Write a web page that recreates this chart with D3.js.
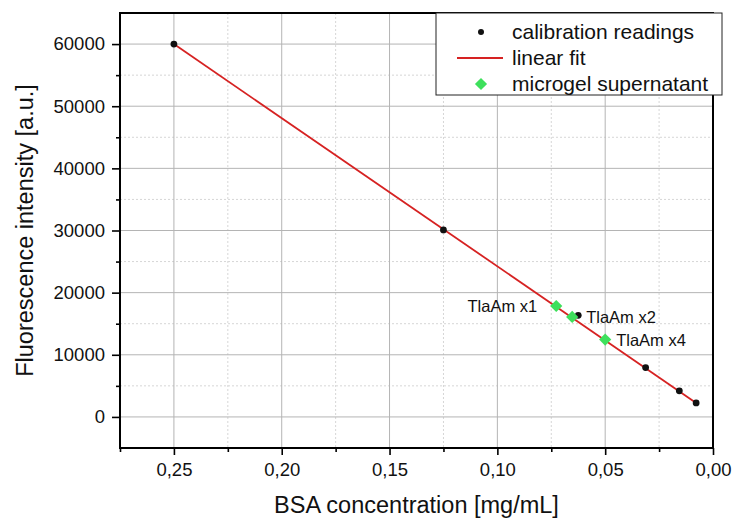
<!DOCTYPE html>
<html>
<head>
<meta charset="utf-8">
<script src="https://cdn.jsdelivr.net/npm/d3@7"></script>
<style>
  body { margin: 0; background: #fff; }
  svg { font-family: Arial, "Liberation Sans", sans-serif; }
</style>
</head>
<body>
<div class="chart"></div>
<script>
// data
var calibX = [0.25, 0.125, 0.0625, 0.03125, 0.015625, 0.0078125];
var calibY = [60000, 30100, 16350, 7950, 4200, 2250];
var fitX = [0.25, 0.0078125];
var fitY = [60000, 2250];
var sampleX = [0.0727, 0.0653, 0.0500];
var sampleY = [17850, 16100, 12450];
var sampleLabels = ["TlaAm x1", "TlaAm x2", "TlaAm x4"];
var xTicks = [0.25, 0.20, 0.15, 0.10, 0.05, 0.00];
var xMinor = [0.275, 0.225, 0.175, 0.125, 0.075, 0.025];
var yTicks = [0, 10000, 20000, 30000, 40000, 50000, 60000];
var yMinor = [-5000, 5000, 15000, 25000, 35000, 45000, 55000, 65000];
var legendLabels = ["calibration readings", "linear fit", "microgel supernatant"];

// set the dimensions and margins of the graph
var margin = {top: 13, right: 20, bottom: 70, left: 120},
    width = 733 - margin.left - margin.right,
    height = 518 - margin.top - margin.bottom;

var x = d3.scaleLinear().domain([0.275, 0]).range([0, width]);
var y = d3.scaleLinear().domain([-5000, 65000]).range([height, 0]);

var locale = d3.formatLocale({decimal: ",", thousands: "", grouping: [3], currency: ["", ""]});
var fmtX = locale.format(".2f");

var svg = d3.select(".chart").append("svg")
    .attr("width", width + margin.left + margin.right)
    .attr("height", height + margin.top + margin.bottom)
    .append("g")
    .attr("transform", "translate(" + margin.left + "," + margin.top + ")");

// minor grid (dashed)
svg.selectAll(".gxm").data(xMinor).enter().append("line")
    .attr("x1", d => x(d)).attr("x2", d => x(d))
    .attr("y1", 0).attr("y2", height)
    .attr("stroke", "#d6d6d6").attr("stroke-dasharray", "2,2");
svg.selectAll(".gym").data(yMinor).enter().append("line")
    .attr("y1", d => y(d)).attr("y2", d => y(d))
    .attr("x1", 0).attr("x2", width)
    .attr("stroke", "#d6d6d6").attr("stroke-dasharray", "2,2");

// major grid
svg.selectAll(".gx").data(xTicks).enter().append("line")
    .attr("x1", d => x(d)).attr("x2", d => x(d))
    .attr("y1", 0).attr("y2", height)
    .attr("stroke", "#b4b4b4");
svg.selectAll(".gy").data(yTicks).enter().append("line")
    .attr("y1", d => y(d)).attr("y2", d => y(d))
    .attr("x1", 0).attr("x2", width)
    .attr("stroke", "#b4b4b4");

// linear fit
var line = d3.line()
    .x(function(d) { return x(d[0]); })
    .y(function(d) { return y(d[1]); });
svg.append("path")
    .datum(d3.zip(fitX, fitY))
    .attr("d", line)
    .attr("fill", "none")
    .attr("stroke", "#d62222")
    .attr("stroke-width", 1.8);

// calibration readings
svg.selectAll(".dot").data(d3.zip(calibX, calibY)).enter().append("circle")
    .attr("cx", d => x(d[0]))
    .attr("cy", d => y(d[1]))
    .attr("r", 3.4)
    .attr("fill", "#111");

// microgel supernatant
var diamond = d3.symbol().type(d3.symbolDiamond2).size(95);
svg.selectAll(".dia").data(d3.zip(sampleX, sampleY)).enter().append("path")
    .attr("d", diamond)
    .attr("transform", d => "translate(" + x(d[0]) + "," + y(d[1]) + ")")
    .attr("fill", "#3ee05c");

// sample labels
var labelDx = [-19, 14, 11];
var labelDy = [6, 6, 6];
var labelAnchor = ["end", "start", "start"];
sampleLabels.forEach(function(t, i) {
    svg.append("text")
        .text(t)
        .attr("x", x(sampleX[i]) + labelDx[i])
        .attr("y", y(sampleY[i]) + labelDy[i])
        .attr("text-anchor", labelAnchor[i])
        .attr("font-size", "16.5px")
        .attr("fill", "#111");
});

// axes
var xAxis = d3.axisBottom(x).tickValues(xTicks).tickFormat(fmtX).tickSize(7).tickPadding(8);
var gx = svg.append("g")
    .attr("transform", "translate(0," + height + ")")
    .call(xAxis);
svg.append("g")
    .attr("transform", "translate(0," + height + ")")
    .call(d3.axisBottom(x).tickValues(xMinor).tickFormat("").tickSize(4))
    .select(".domain").remove();

var yAxis = d3.axisLeft(y).tickValues(yTicks).tickFormat(d3.format("d")).tickSize(8).tickPadding(7);
var gy = svg.append("g").call(yAxis);
svg.append("g")
    .call(d3.axisLeft(y).tickValues(yMinor.filter(v => v > -5000 && v < 65000)).tickFormat("").tickSize(4))
    .select(".domain").remove();

[gx, gy].forEach(function(g) {
    g.select(".domain").remove();
    g.selectAll(".tick text").attr("font-size", "18.5px").attr("fill", "#111")
        .attr("font-family", "Arial, 'Liberation Sans', sans-serif");
});
svg.selectAll(".tick line").attr("stroke", "#000").attr("stroke-width", 1.6);

// frame
svg.append("rect")
    .attr("width", width).attr("height", height)
    .attr("fill", "none").attr("stroke", "#000").attr("stroke-width", 2);

// axis titles
svg.append("text")
    .text("BSA concentration [mg/mL]")
    .attr("x", width / 2).attr("y", height + 65)
    .attr("text-anchor", "middle")
    .attr("font-size", "23.5px").attr("fill", "#111");

svg.append("text")
    .text("Fluorescence intensity [a.u.]")
    .attr("transform", "translate(-87," + (height / 2) + ") rotate(-90)")
    .attr("text-anchor", "middle")
    .attr("font-size", "23.5px").attr("fill", "#111");

// legend
var leg = svg.append("g").attr("transform", "translate(" + (width - 277) + ",0)");
leg.append("rect")
    .attr("width", 286).attr("height", 82)
    .attr("fill", "#fff").attr("stroke", "#222").attr("stroke-width", 1);
var rowY = [19, 45, 71];
leg.append("circle").attr("cx", 45).attr("cy", rowY[0]).attr("r", 3).attr("fill", "#111");
leg.append("line").attr("x1", 21).attr("x2", 67).attr("y1", rowY[1]).attr("y2", rowY[1])
    .attr("stroke", "#d62222").attr("stroke-width", 1.8);
leg.append("path").attr("d", diamond)
    .attr("transform", "translate(45," + rowY[2] + ")").attr("fill", "#3ee05c");
legendLabels.forEach(function(t, i) {
    leg.append("text")
        .text(t)
        .attr("x", 76).attr("y", rowY[i] + 7)
        .attr("font-size", "21px").attr("fill", "#111");
});
</script>
</body>
</html>
